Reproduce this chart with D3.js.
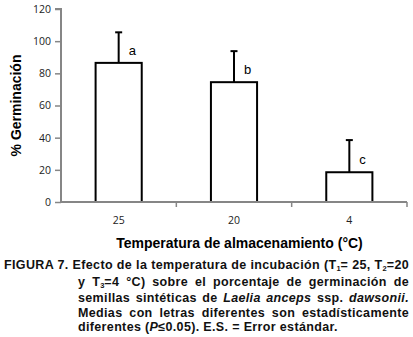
<!DOCTYPE html>
<html>
<head>
<meta charset="utf-8">
<script src="https://cdn.jsdelivr.net/npm/d3@7"></script>
<style>
	body { margin: 0; background: #fff; }
	svg { display: block; }
</style>
</head>
<body>
<svg id="chart" width="413" height="337"></svg>
<script>
// Data
const categories = [ '25', '20', '4' ];
const means = [ 86.5, 74.5, 18.5 ];
const errors = [ 19, 19.3, 20 ];
const letters = [ 'a', 'b', 'c' ];
const yTicks = [ 0, 20, 40, 60, 80, 100, 120 ];

const captionLines = [
	'FIGURA 7. Efecto de la temperatura de incubación (T<sub>1</sub>= 25, T<sub>2</sub>=20',
	'y T<sub>3</sub>=4 °C) sobre el porcentaje de germinación de',
	'semillas sintéticas de <i>Laelia anceps</i> ssp. <i>dawsonii.</i>',
	'Medias con letras diferentes son estadísticamente',
	'diferentes (<i>P</i>≤0.05). E.S. = Error estándar.',
];

const margin = { top: 9, right: 6, bottom: 135, left: 61 };
const width = 413 - margin.left - margin.right;
const height = 337 - margin.top - margin.bottom;
const axisGrey = '#868686';

const svg = d3.select( '#chart' );
const g = svg.append( 'g' )
	.attr( 'transform', `translate(${ margin.left },${ margin.top })` );

const x = d3.scaleBand()
	.domain( categories )
	.range( [ 0, width ] )
	.paddingInner( 0.6 )
	.paddingOuter( 0.3 );

const y = d3.scaleLinear()
	.domain( [ 0, 120 ] )
	.range( [ height, 0 ] );

// Bars
g.selectAll( 'rect.bar' )
	.data( means )
	.enter()
	.append( 'rect' )
	.attr( 'class', 'bar' )
	.attr( 'x', ( d, i ) => x( categories[ i ] ) )
	.attr( 'y', ( d ) => y( d ) )
	.attr( 'width', x.bandwidth() )
	.attr( 'height', ( d ) => height - y( d ) )
	.attr( 'fill', '#fff' )
	.attr( 'stroke', '#000' )
	.attr( 'stroke-width', 2 );

// Error bars (upper only)
const cx = ( i ) => x( categories[ i ] ) + x.bandwidth() / 2;
g.selectAll( 'line.err' )
	.data( means )
	.enter()
	.append( 'line' )
	.attr( 'x1', ( d, i ) => cx( i ) )
	.attr( 'x2', ( d, i ) => cx( i ) )
	.attr( 'y1', ( d ) => y( d ) )
	.attr( 'y2', ( d, i ) => y( d + errors[ i ] ) )
	.attr( 'stroke', '#000' )
	.attr( 'stroke-width', 2 );

g.selectAll( 'line.cap' )
	.data( means )
	.enter()
	.append( 'line' )
	.attr( 'x1', ( d, i ) => cx( i ) - 3.5 )
	.attr( 'x2', ( d, i ) => cx( i ) + 3.5 )
	.attr( 'y1', ( d, i ) => y( d + errors[ i ] ) )
	.attr( 'y2', ( d, i ) => y( d + errors[ i ] ) )
	.attr( 'stroke', '#000' )
	.attr( 'stroke-width', 2 );

// Significance letters
g.selectAll( 'text.letter' )
	.data( letters )
	.enter()
	.append( 'text' )
	.attr( 'x', ( d, i ) => cx( i ) + 10 )
	.attr( 'y', ( d, i ) => y( means[ i ] ) - 8 )
	.attr( 'font-family', 'Liberation Sans, Arial, sans-serif' )
	.attr( 'font-size', 13 )
	.text( ( d ) => d );

// Y axis
const yAxis = g.append( 'g' )
	.call( d3.axisLeft( y ).tickValues( yTicks ).tickSize( 6 ).tickPadding( 4 ) );

// X axis: ticks at band boundaries, labels at band centres
const xAxis = g.append( 'g' )
	.attr( 'transform', `translate(0,${ height })` )
	.call( d3.axisBottom( x ).tickSize( 0 ).tickPadding( 15 ) );

const step = x.step();
xAxis.selectAll( 'line.bound' )
	.data( categories )
	.enter()
	.append( 'line' )
	.attr( 'class', 'bound' )
	.attr( 'x1', ( d ) => x( d ) - x.paddingOuter() * step + step )
	.attr( 'x2', ( d ) => x( d ) - x.paddingOuter() * step + step )
	.attr( 'y1', 0 )
	.attr( 'y2', 5 );

[ yAxis, xAxis ].forEach( ( ax ) => {
	ax.select( '.domain' ).attr( 'stroke', axisGrey ).attr( 'stroke-width', 2 );
	ax.selectAll( 'line' ).attr( 'stroke', axisGrey ).attr( 'stroke-width', 1.5 );
	ax.selectAll( 'text' )
		.attr( 'fill', '#222' )
		.attr( 'font-family', 'Open Sans, sans-serif' )
		.attr( 'font-size', 10.5 );
} );
yAxis.select( '.domain' ).attr( 'd', `M-6,0H0V${ height }` );
xAxis.select( '.domain' ).attr( 'd', `M0,0H${ width }` );

// Axis titles
svg.append( 'text' )
	.attr( 'transform', `translate(21,${ margin.top + y( 60 ) }) rotate(-90)` )
	.attr( 'text-anchor', 'middle' )
	.attr( 'font-family', 'Liberation Sans, Arial, sans-serif' )
	.attr( 'font-weight', 'bold' )
	.attr( 'font-size', 14 )
	.text( '% Germinación' );

svg.append( 'text' )
	.attr( 'x', 239.5 )
	.attr( 'y', 248 )
	.attr( 'text-anchor', 'middle' )
	.attr( 'font-family', 'Liberation Sans, Arial, sans-serif' )
	.attr( 'font-weight', 'bold' )
	.attr( 'font-size', 14 )
	.text( 'Temperatura de almacenamiento (°C)' );

// Caption
const caption = d3.select( 'body' ).append( 'div' )
	.style( 'position', 'absolute' )
	.style( 'left', '4px' )
	.style( 'top', '258px' )
	.style( 'width', '405px' )
	.style( 'font-family', 'Liberation Sans, Arial, sans-serif' )
	.style( 'font-weight', 'bold' )
	.style( 'font-size', '12.5px' )
	.style( 'letter-spacing', '0.35px' )
	.style( 'line-height', '14.6px' )
	.style( 'color', '#111' );

caption.selectAll( 'div' )
	.data( captionLines )
	.enter()
	.append( 'div' )
	.style( 'margin-left', ( d, i ) => i === 0 ? '0px' : '74px' )
	.style( 'text-align', ( d, i ) => i === captionLines.length - 1 ? 'left' : 'justify' )
	.style( 'text-align-last', ( d, i ) => i === captionLines.length - 1 ? 'left' : 'justify' )
	.style( 'white-space', 'nowrap' )
	.html( ( d ) => d );

caption.selectAll( 'sub' )
	.style( 'font-size', '7.5px' )
	.style( 'vertical-align', 'baseline' )
	.style( 'position', 'relative' )
	.style( 'top', '2px' )
	.style( 'letter-spacing', '0' );
</script>
</body>
</html>
